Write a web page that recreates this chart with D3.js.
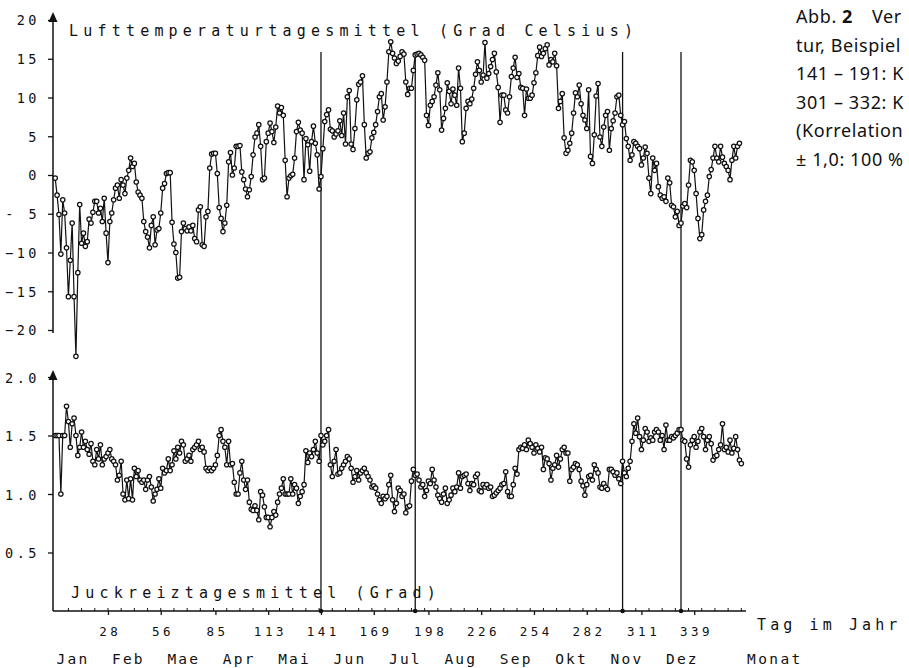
<!DOCTYPE html>
<html><head><meta charset="utf-8">
<script src="https://cdn.jsdelivr.net/npm/d3@7"></script>
<style>
html,body{margin:0;padding:0;background:#fff;overflow:hidden}
svg{display:block;background:#fff}
</style></head><body>
<svg id="c" width="909" height="668"></svg>
<script>
// Lufttemperaturtagesmittel (°C), one value per day, by month
const tempJan = [-0.4,-2.6,-5.1,-10.2,-3.2,-4.9,-9.4,-15.7,-11.0,-6.2,-15.7,-23.4,-12.6,-3.8,-8.8,-7.5,-9.2,-8.6,-5.7,-6.2,-4.8,-3.4,-3.4,-4.9,-4.3,-6.0,-3.0,-7.5,-11.3,-6.0,-4.9];
const tempFeb = [-3.2,-1.7,-1.3,-3.0,-0.6,-1.3,-2.4,-0.4,0.6,2.2,1.1,1.5,-0.9,-2.2,-2.6,-3.0,-6.0,-7.3,-8.0,-9.4,-6.5,-5.4,-9.0,-7.1,-6.9,-4.9,-1.7,-1.1];
const tempMar = [0.2,0.3,0.3,-6.1,-8.9,-10.0,-13.3,-13.2,-7.3,-6.2,-6.9,-7.2,-6.7,-7.2,-6.5,-8.2,-8.6,-4.5,-4.1,-9.0,-9.2,-5.4,-4.7,0.9,2.7,2.8,2.8,0.2,-4.2,-5.6,-7.3];
const tempApr = [-6.2,-3.9,1.7,2.9,0.0,0.9,3.7,3.7,3.8,0.4,-0.6,-1.8,-2.8,-1.9,-0.2,2.6,4.9,5.4,6.5,3.7,-0.6,-0.4,4.3,5.4,6.7,5.6,4.2,6.2,8.9,8.0];
const tempMay = [8.7,7.7,1.9,-2.8,-0.4,-0.1,0.1,2.2,5.6,6.8,5.8,5.4,-0.6,4.7,3.9,0.5,4.3,6.3,4.1,2.6,-1.8,-0.2,3.4,6.9,7.8,8.4,5.9,5.7,4.9,5.3,5.7];
const tempJun = [7.0,5.1,8.0,4.0,10.1,10.9,4.0,3.3,6.0,9.7,11.7,12.0,12.8,6.5,2.2,2.8,3.0,4.8,5.5,6.5,8.2,10.1,10.5,7.1,8.8,12.0,15.9,17.2,15.7,15.1];
const tempJul = [14.4,14.7,15.3,15.9,15.6,12.0,10.4,11.2,11.2,13.5,15.5,15.6,15.7,15.5,15.2,14.8,7.7,6.4,9.0,9.5,10.1,11.6,13.2,11.0,5.8,7.3,8.6,11.9,10.8,9.2,11.1];
const tempAug = [10.3,9.0,13.8,11.2,4.3,5.4,8.6,9.5,9.2,9.8,11.2,13.0,14.6,13.5,12.0,12.9,17.1,12.5,13.1,14.0,14.9,15.7,13.3,11.3,6.8,10.3,10.3,8.4,8.0,10.1,12.7];
const tempSep = [13.8,15.2,12.6,13.1,11.3,11.2,7.7,11.1,9.9,9.9,10.3,11.9,13.2,15.4,16.5,15.3,15.7,16.3,16.8,14.2,14.9,14.6,15.7,14.1,8.6,9.5,10.5,4.8,2.8,3.2];
const tempOct = [4.1,5.4,8.0,10.6,10.1,11.6,9.2,7.7,7.1,6.0,11.0,2.4,1.5,5.2,10.2,11.8,4.9,3.7,6.2,7.7,8.2,3.2,6.0,7.0,8.0,10.1,10.3,7.7,6.5,6.9,4.7];
const tempNov = [3.7,1.9,2.6,4.3,4.1,3.7,3.4,1.3,2.2,3.6,2.8,-0.4,-2.4,2.2,0.6,1.5,-1.5,-2.6,-3.0,-2.8,-3.4,-0.4,-1.0,-3.9,-4.1,-5.4,-4.7,-6.5,-6.2,-4.0];
const tempDec = [-3.7,-4.2,-1.3,1.9,1.7,0.6,-2.4,-5.6,-8.2,-7.7,-4.5,-3.4,-2.6,-0.2,0.7,2.2,3.7,2.2,1.7,3.7,2.3,1.5,1.1,0.6,-0.6,1.9,3.7,2.2,3.7,4.1];

// Juckreiztagesmittel (Grad), one value per day, by month
const itchJan = [1.50,1.50,1.50,1.00,1.50,1.50,1.75,1.62,1.40,1.60,1.65,1.50,1.33,1.40,1.53,1.40,1.45,1.38,1.34,1.43,1.28,1.25,1.38,1.30,1.42,1.25,1.30,1.32,1.35,1.38,1.30];
const itchFeb = [1.28,1.25,1.12,1.16,1.28,1.00,0.95,1.12,0.96,1.13,0.95,1.22,1.15,1.20,1.12,1.10,1.12,1.04,1.12,1.15,1.06,0.94,1.00,1.04,1.13,1.05,1.22,1.18];
const itchMar = [1.20,1.30,1.20,1.25,1.37,1.30,1.40,1.35,1.45,1.42,1.28,1.30,1.33,1.28,1.38,1.40,1.42,1.45,1.38,1.40,1.36,1.22,1.20,1.22,1.20,1.22,1.25,1.33,1.50,1.55,1.45];
const itchApr = [1.40,1.25,1.45,1.25,1.26,1.10,1.00,1.00,1.18,1.28,1.12,1.04,1.12,0.93,0.87,0.86,0.90,0.86,0.78,1.02,0.99,0.89,0.80,0.80,0.72,0.80,0.85,0.82,0.93,1.00];
const itchMay = [1.05,1.13,1.00,1.00,1.00,1.13,1.00,1.08,1.05,0.92,0.98,1.02,1.08,1.37,1.27,1.35,1.32,1.38,1.45,1.35,1.28,1.50,1.42,1.45,1.50,1.55,1.25,1.15,1.28,1.38,1.17];
const itchJun = [1.18,1.22,1.25,1.28,1.32,1.30,1.22,1.10,1.15,1.20,1.12,1.18,1.20,1.22,1.18,1.15,1.12,1.06,1.07,1.05,1.00,0.95,0.92,0.98,0.96,0.98,1.08,1.16,0.95,0.85];
const itchJul = [0.92,1.05,1.03,0.98,1.00,0.84,0.89,0.90,1.11,1.21,1.16,1.17,1.12,1.06,1.08,0.98,1.03,1.11,1.09,1.21,1.12,1.06,0.99,0.96,0.93,1.00,1.05,0.92,0.95,0.99,1.05];
const itchAug = [1.02,1.06,1.18,1.05,1.15,1.16,1.17,1.09,1.03,1.09,1.08,1.15,1.17,1.03,1.02,1.08,1.06,1.08,1.05,1.06,0.98,0.99,1.01,1.03,1.05,1.08,1.09,1.19,1.02,0.98,0.98];
const itchSep = [1.08,1.22,1.17,1.38,1.40,1.39,1.42,1.38,1.46,1.43,1.40,1.35,1.42,1.39,1.36,1.40,1.21,1.31,1.30,1.26,1.12,1.22,1.25,1.33,1.23,1.30,1.38,1.40,1.35,1.35];
const itchOct = [1.11,1.21,1.23,1.26,1.25,1.21,1.11,1.07,0.99,1.08,1.15,1.16,1.12,1.25,1.21,1.18,1.06,1.05,1.09,1.06,1.04,1.21,1.21,1.19,1.16,1.18,1.13,1.09,1.28,1.18,1.15];
const itchNov = [1.22,1.28,1.45,1.60,1.52,1.65,1.49,1.38,1.46,1.56,1.53,1.45,1.48,1.46,1.53,1.55,1.53,1.46,1.50,1.38,1.59,1.46,1.46,1.49,1.48,1.50,1.52,1.55,1.55,1.46];
const itchDec = [1.45,1.30,1.23,1.42,1.46,1.49,1.40,1.45,1.53,1.56,1.49,1.38,1.46,1.49,1.43,1.29,1.32,1.33,1.38,1.42,1.60,1.38,1.40,1.36,1.46,1.35,1.39,1.49,1.38,1.29,1.26];

const tempTicks = [20,15,10,5,0,-5,-10,-15,-20];
const itchTicks = [2.0,1.5,1.0,0.5];
const dayTicks = [28,56,85,113,141,169,198,226,254,282,311,339];
const monthLabels = ["Jan","Feb","Mae","Apr","Mai","Jun","Jul","Aug","Sep","Okt","Nov","Dez"];
const markerDays = [141,191,301,332];
const captionLines = ["tur, Beispiel","141 – 191: K","301 – 332: K","(Korrelation","± 1,0: 100 %"];

const temp = [].concat(tempJan,tempFeb,tempMar,tempApr,tempMay,tempJun,tempJul,tempAug,tempSep,tempOct,tempNov,tempDec);
const itch = [].concat(itchJan,itchFeb,itchMar,itchApr,itchMay,itchJun,itchJul,itchAug,itchSep,itchOct,itchNov,itchDec);

const INK = "#111";
const MONO = "'DejaVu Sans Mono', monospace";
const svg = d3.select("#c");

const x = d3.scaleLinear().domain([0, 366]).range([55.2, 745.1]);
const yT = d3.scaleLinear().domain([-20, 20]).range([330, 20]);
const yI = d3.scaleLinear().domain([0, 2]).range([611, 377]);
const AX = 53, XAXIS_Y = 611;

// vertical marker lines
svg.append("g").selectAll("line").data(markerDays).join("line")
  .attr("x1", d => x(d)).attr("x2", d => x(d))
  .attr("y1", 52).attr("y2", XAXIS_Y)
  .attr("stroke", INK).attr("stroke-width", 1.3);
svg.append("g").selectAll("circle").data(markerDays).join("circle")
  .attr("cx", d => x(d)).attr("cy", XAXIS_Y).attr("r", 2.3).attr("fill", INK);

// axes lines with arrows
svg.append("line").attr("x1", AX).attr("x2", AX).attr("y1", 18).attr("y2", 333)
  .attr("stroke", INK).attr("stroke-width", 1.5);
svg.append("path").attr("d", `M${AX},12 L${AX-4.5},22 L${AX+4.5},22 Z`).attr("fill", INK);
svg.append("line").attr("x1", AX).attr("x2", AX).attr("y1", 376).attr("y2", XAXIS_Y)
  .attr("stroke", INK).attr("stroke-width", 1.5);
svg.append("path").attr("d", `M${AX},370 L${AX-4.5},380 L${AX+4.5},380 Z`).attr("fill", INK);
svg.append("line").attr("x1", AX).attr("x2", 746).attr("y1", XAXIS_Y).attr("y2", XAXIS_Y)
  .attr("stroke", INK).attr("stroke-width", 1.5);

function styleAxis(g, size, ls) {
  g.select(".domain").remove();
  g.selectAll(".tick line").attr("stroke", INK).attr("stroke-width", 1.3);
  g.selectAll("text").attr("font-family", MONO).attr("font-size", size)
    .attr("fill", INK).style("letter-spacing", ls + "px");
}

// y axis top
const gT = svg.append("g").attr("transform", `translate(${AX},0)`)
  .call(d3.axisLeft(yT).tickValues(tempTicks).tickSize(5).tickPadding(8).tickFormat(d3.format("d")));
styleAxis(gT, 13.5, 3.5);
gT.selectAll("text").attr("dy", "0.36em");
// plotter style: minus sign in its own column for single-digit negatives
gT.selectAll(".tick text").filter(d => d < 0 && d > -10).each(function(d) {
  const t = d3.select(this); t.text(null);
  t.append("tspan").text("-");
  t.append("tspan").attr("dx", 11.6).text(String(-d));
});

// y axis bottom
const gI = svg.append("g").attr("transform", `translate(${AX},0)`)
  .call(d3.axisLeft(yI).tickValues(itchTicks).tickSize(5).tickPadding(8).tickFormat(d3.format(".1f")));
styleAxis(gI, 13.5, 3.5);
gI.selectAll("text").attr("dy", "0.4em");

// x axis
const gX = svg.append("g").attr("transform", `translate(0,${XAXIS_Y})`)
  .call(d3.axisBottom(x).tickValues(dayTicks).tickSize(4).tickPadding(12).tickFormat(d3.format("d")));
styleAxis(gX, 12.5, 3.5);
gX.selectAll("text").attr("dx", "1.7px");
svg.append("g").selectAll("line").data(d3.range(7, 366, 7)).join("line")
  .attr("x1", d => x(d)).attr("x2", d => x(d))
  .attr("y1", XAXIS_Y - 3).attr("y2", XAXIS_Y)
  .attr("stroke", INK).attr("stroke-width", 1);

// series
const lineT = d3.line().x((d, i) => x(i)).y(d => yT(d));
const lineI = d3.line().x((d, i) => x(i)).y(d => yI(d));
svg.append("path").datum(temp).attr("d", lineT).attr("fill", "none")
  .attr("stroke", INK).attr("stroke-width", 1.2).attr("stroke-linejoin", "round");
svg.append("path").datum(itch).attr("d", lineI).attr("fill", "none")
  .attr("stroke", INK).attr("stroke-width", 1.2).attr("stroke-linejoin", "round");
svg.append("g").selectAll("circle").data(temp).join("circle")
  .attr("cx", (d, i) => x(i)).attr("cy", d => yT(d)).attr("r", 2.2)
  .attr("fill", "#fff").attr("stroke", INK).attr("stroke-width", 1.25);
svg.append("g").selectAll("circle").data(itch).join("circle")
  .attr("cx", (d, i) => x(i)).attr("cy", d => yI(d)).attr("r", 2.2)
  .attr("fill", "#fff").attr("stroke", INK).attr("stroke-width", 1.25);

// titles and labels
function mono(txt, xx, yy, size, ls, anchor) {
  return svg.append("text").text(txt).attr("x", xx).attr("y", yy)
    .attr("font-family", MONO).attr("font-size", size).attr("fill", INK)
    .attr("text-anchor", anchor || "start").style("letter-spacing", ls + "px");
}
mono("Lufttemperaturtagesmittel (Grad Celsius)", 69, 36, 15, 5.2);
mono("Juckreiztagesmittel (Grad)", 71, 598, 15, 5.2);
mono("Tag im Jahr", 757, 630, 15, 4.1);
mono("Monat", 747, 664, 14.5, 2.4);
svg.append("g").selectAll("text").data(monthLabels).join("text")
  .text(d => d)
  .attr("x", (d, i) => 73 + i * 55.4).attr("y", 664)
  .attr("text-anchor", "middle")
  .attr("font-family", MONO).attr("font-size", 14.5).attr("fill", INK)
  .style("letter-spacing", "2.2px");

// caption (as far as it is visible at the right edge)
const SANS = "'Noto Sans', 'Open Sans', sans-serif";
const cap = svg.append("text").attr("y", 23).attr("font-family", SANS)
  .attr("font-size", 18).attr("fill", INK).style("letter-spacing", "0.6px");
cap.append("tspan").attr("x", 796).text("Abb.");
cap.append("tspan").attr("x", 842).attr("font-weight", "bold").text("2");
cap.append("tspan").attr("x", 872).text("Ver");
svg.append("g").selectAll("text").data(captionLines).join("text")
  .text(d => d)
  .attr("x", 796).attr("y", (d, i) => 51.5 + i * 28.5)
  .attr("font-family", SANS).attr("font-size", 18).attr("fill", INK)
  .style("letter-spacing", "0.6px");
</script>
</body></html>
